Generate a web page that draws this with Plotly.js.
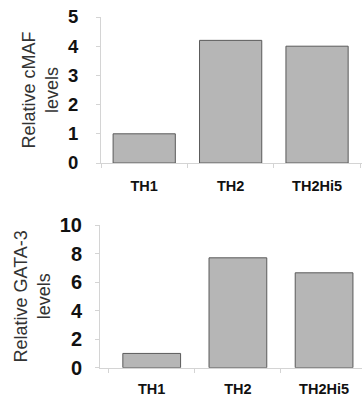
<!DOCTYPE html>
<html><head><meta charset="utf-8">
<script src="https://cdn.plot.ly/plotly-3.0.1.min.js"></script>
<style>html,body{margin:0;padding:0;background:#fff}</style>
</head><body>
<div id="chart" style="width:362px;height:396px"></div>
<script>
const categories = ["TH1", "TH2", "TH2Hi5"];
const cmafValues = [1.0, 4.2, 4.0];
const gataValues = [1.0, 7.7, 6.65];
const cmafTicks = [0, 1, 2, 3, 4, 5];
const gataTicks = [0, 2, 4, 6, 8, 10];

const bold = s => "<b>" + s + "</b>";
const barStyle = {color: "#b6b6b6", line: {color: "#5a5a5a", width: 1}};
const traces = [
  {type: "bar", x: categories, y: cmafValues, xaxis: "x", yaxis: "y", marker: barStyle, width: 0.72, hoverinfo: "none"},
  {type: "bar", x: categories, y: gataValues, xaxis: "x2", yaxis: "y2", marker: barStyle, width: 0.67, hoverinfo: "none"}
];
const fam = "Liberation Sans, Arial, sans-serif";
const xFont = {family: fam, size: 14.5, color: "#111", weight: 700};
const titleFont = {family: fam, size: 18, color: "#333"};
const H = 396, W = 362;
function xax(dom, anchor, range, standoff) {
  return {domain: dom, anchor: anchor, range: range, showgrid: false, zeroline: false,
    tickmode: "array", tickvals: categories, ticktext: categories.map(bold),
    showline: true, linecolor: "#d4d4d4", linewidth: 1, ticks: "outside", tickson: "boundaries",
    ticklen: 4, tickcolor: "#d4d4d4", tickfont: xFont, ticklabelstandoff: standoff, fixedrange: true};
}
function yax(dom, anchor, range, ticks, title, fsize, lblStandoff, titleStandoff) {
  return {domain: dom, anchor: anchor, range: range, tickmode: "array", tickvals: ticks,
    ticktext: ticks.map(v => bold(String(v))), showgrid: false, zeroline: false,
    showline: true, linecolor: "#d4d4d4", linewidth: 1, ticks: "outside", ticklen: 4, tickcolor: "#d4d4d4",
    tickfont: {family: fam, size: fsize, color: "#111", weight: 700}, ticklabelstandoff: lblStandoff,
    title: {text: title, font: titleFont, standoff: titleStandoff}, fixedrange: true};
}
const layout = {
  width: W, height: H, margin: {l: 0, r: 0, t: 0, b: 0},
  paper_bgcolor: "#fff", plot_bgcolor: "#fff", showlegend: false,
  xaxis: xax([101 / W, 1], "y", [-0.5, 2.52], 10),
  yaxis: yax([1 - 163 / H, 1 - 17 / H], "x", [0, 5], cmafTicks, "Relative cMAF<br>levels", 18.5, 14, 4),
  xaxis2: xax([100 / W, 1], "y2", [-0.6, 2.44], 8),
  yaxis2: yax([1 - 367.7 / H, 1 - 225 / H], "x2", [0, 10], gataTicks, "Relative GATA-3<br>levels", 20, 9, 4)
};
Plotly.newPlot("chart", traces, layout, {displayModeBar: false, staticPlot: true});
</script>
</body></html>
